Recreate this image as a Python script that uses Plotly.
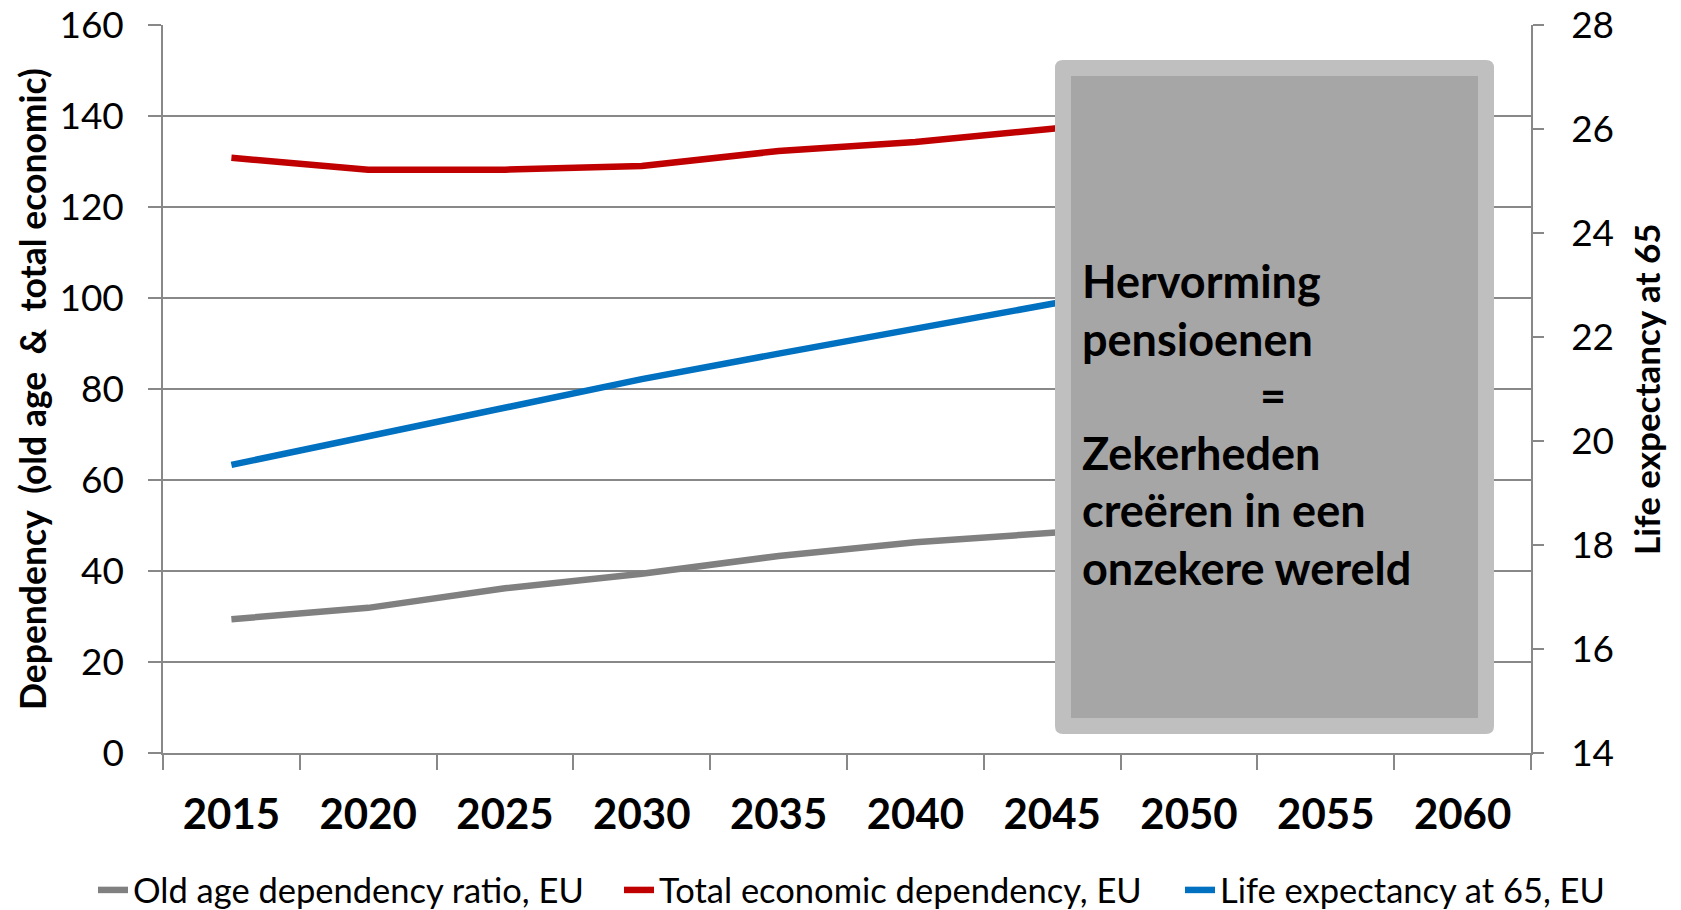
import plotly.graph_objects as go

years = ["2015", "2020", "2025", "2030", "2035", "2040", "2045", "2050", "2055", "2060"]
old_age_dep = [29.4, 31.9, 36.2, 39.4, 43.3, 46.3, 48.4, 50.0, 50.6, 51.0]
total_econ_dep = [130.8, 128.2, 128.2, 129.0, 132.3, 134.3, 137.2, 140.5, 142.0, 143.0]
life_exp_65 = [19.54, 20.09, 20.63, 21.19, 21.68, 22.15, 22.64, 23.05, 23.45, 23.85]

series_names = ["Old age dependency ratio, EU", "Total economic dependency, EU", "Life expectancy at 65, EU"]
left_title = "Dependency  (old age  &  total economic)"
right_title = "Life expectancy at 65"
box_lines = ["Hervorming", "pensioenen", "=", "Zekerheden", "creëren in een", "onzekere wereld"]

W, H = 1681, 910
L, R, T, B = 163, 1531, 25, 753
PW, PH = R - L, B - T


def px(x):
    return (x - L) / PW


def py(y):
    return (B - y) / PH


FONT = "Lato, 'Open Sans', sans-serif"
GRID = "#888888"
colors = ["#808080", "#C00000", "#0070C0"]

fig = go.Figure()
fig.add_trace(go.Scatter(x=years, y=old_age_dep, name=series_names[0], mode="lines",
                         line=dict(color=colors[0], width=6.5), yaxis="y", legend="legend"))
fig.add_trace(go.Scatter(x=years, y=total_econ_dep, name=series_names[1], mode="lines",
                         line=dict(color=colors[1], width=6.5), yaxis="y", legend="legend2"))
fig.add_trace(go.Scatter(x=years, y=life_exp_65, name=series_names[2], mode="lines",
                         line=dict(color=colors[2], width=6.5), yaxis="y2", legend="legend3"))

# box shapes (rounded outer frame + inner panel)
x0, x1, y0, y1 = px(1055), px(1494), py(734), py(60)
rx, ry = 8 / PW, 8 / PH
outer = (f"M {x0+rx},{y0} L {x1-rx},{y0} Q {x1},{y0} {x1},{y0+ry} "
         f"L {x1},{y1-ry} Q {x1},{y1} {x1-rx},{y1} L {x0+rx},{y1} Q {x0},{y1} {x0},{y1-ry} "
         f"L {x0},{y0+ry} Q {x0},{y0} {x0+rx},{y0} Z")
shapes = [
    dict(type="path", xref="paper", yref="paper", path=outer, fillcolor="#BFBFBF",
         line=dict(width=0), layer="above"),
    dict(type="rect", xref="paper", yref="paper", x0=px(1071), x1=px(1478), y0=py(718), y1=py(76),
         fillcolor="#A6A6A6", line=dict(width=0), layer="above"),
]

annotations = []
line_centers = [281, 338.5, 395, 453, 510, 568]
for txt, yc in zip(box_lines, line_centers):
    if txt == "=":
        annotations.append(dict(x=px(1273), y=py(yc), xref="paper", yref="paper", text=f"<b>{txt}</b>",
                                showarrow=False, xanchor="center", yanchor="middle",
                                font=dict(family=FONT, size=45, color="black")))
    else:
        annotations.append(dict(x=px(1080), y=py(yc), xref="paper", yref="paper", text=f"<b>{txt}</b>",
                                showarrow=False, xanchor="left", yanchor="middle",
                                font=dict(family=FONT, size=45, color="black")))

annotations.append(dict(x=px(32), y=0.5, xref="paper", yref="paper", text=f"<b>{left_title}</b>",
                        textangle=-90, showarrow=False, xanchor="center", yanchor="middle",
                        font=dict(family=FONT, size=35.5, color="black")))
annotations.append(dict(x=px(1646), y=0.5, xref="paper", yref="paper", text=f"<b>{right_title}</b>",
                        textangle=-90, showarrow=False, xanchor="center", yanchor="middle",
                        font=dict(family=FONT, size=35, color="black")))

leg_common = dict(orientation="h", xanchor="left", y=py(890), yanchor="middle",
                  font=dict(family=FONT, size=34.5, color="black"), bgcolor="rgba(0,0,0,0)",
                  borderwidth=0)
text_starts = [135, 661, 1222]

fig.update_layout(
    width=W, height=H,
    margin=dict(l=L, r=W - R, t=T, b=H - B, autoexpand=False),
    paper_bgcolor="white", plot_bgcolor="white",
    font=dict(family=FONT, color="black"),
    showlegend=True,
    legend=dict(x=px(text_starts[0] - 42), **leg_common),
    legend2=dict(x=px(text_starts[1] - 42), **leg_common),
    legend3=dict(x=px(text_starts[2] - 42), **leg_common),
    xaxis=dict(type="category", categoryorder="array", categoryarray=years,
               tickson="boundaries", ticks="outside", ticklen=15, tickwidth=1.5, tickcolor=GRID,
               showline=True, linecolor=GRID, linewidth=1.5, showgrid=False, zeroline=False,
               tickfont=dict(family=FONT, size=42, color="black", weight="bold"),
               ticklabelstandoff=24, range=[-0.5, 9.5]),
    yaxis=dict(range=[0, 160], dtick=20, tick0=0, showgrid=True, gridcolor=GRID, gridwidth=1.5,
               showline=True, linecolor=GRID, linewidth=1.5, ticks="outside", ticklen=13,
               tickwidth=1.5, tickcolor=GRID, zeroline=False,
               tickfont=dict(family=FONT, size=37, color="black"), ticklabelstandoff=17),
    yaxis2=dict(range=[14, 28], dtick=2, tick0=14, overlaying="y", side="right", showgrid=False,
                showline=True, linecolor=GRID, linewidth=1.5, ticks="outside", ticklen=11,
                tickwidth=1.5, tickcolor=GRID, zeroline=False,
                tickfont=dict(family=FONT, size=37, color="black"), ticklabelstandoff=20),
    shapes=shapes,
    annotations=annotations,
)

fig.write_html("out.html", config={"displayModeBar": False},
               post_script="document.body.style.margin='0';document.body.style.overflow='hidden';")
